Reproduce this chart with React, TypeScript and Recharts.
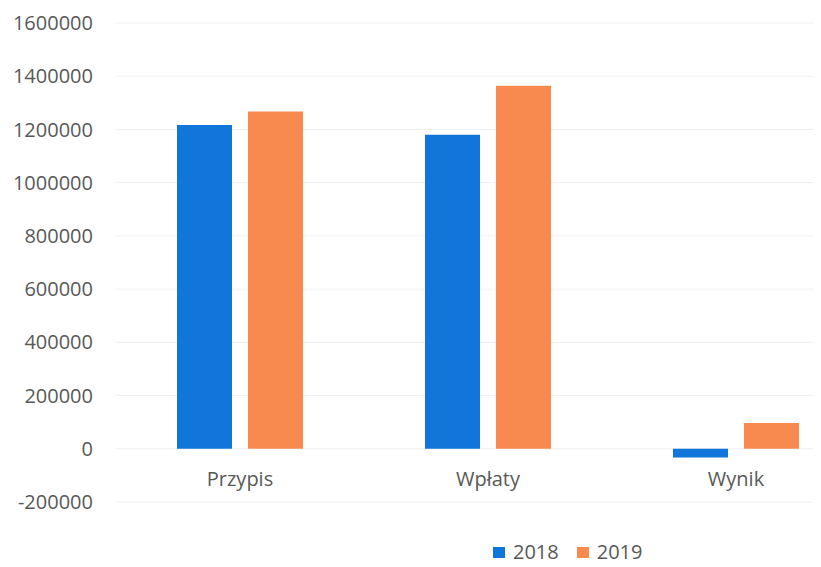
import { BarChart, Bar, XAxis, YAxis, CartesianGrid } from "recharts";

const CATEGORIES = ["Przypis", "Wpłaty", "Wynik"];
const VALUES_2018 = [1217000, 1180000, -33000];
const VALUES_2019 = [1267000, 1364000, 97000];
const Y_TICKS = [-200000, 0, 200000, 400000, 600000, 800000, 1000000, 1200000, 1400000, 1600000];

const SERIES = [
  { key: "y2018", name: "2018", color: "#1176da" },
  { key: "y2019", name: "2019", color: "#f88a4f" },
];

const data = CATEGORIES.map((c, i) => ({ c, y2018: VALUES_2018[i], y2019: VALUES_2019[i] }));

const FONT = "'Open Sans', sans-serif";
const TEXT = "#595959";

// Excel draws the category names beside the zero line, not at the bottom of the plot
function CategoryTick({ x, y, payload }: any) {
  return (
    <text x={x} y={y} dy={-16} textAnchor="middle" fill={TEXT} fontSize={20} fontFamily={FONT}>
      {payload.value}
    </text>
  );
}

export default function App() {
  return (
    <div style={{ position: "relative", margin: -8, width: 821, height: 567, overflow: "hidden", background: "#fff" }}>
      <BarChart
        width={860}
        height={567}
        data={data}
        margin={{ top: 23, right: 0, left: 0, bottom: 35 }}
        barGap={16}
        barSize={55}
      >
        <CartesianGrid stroke="#efefef" vertical={false} />
        <XAxis
          dataKey="c"
          height={30}
          axisLine={false}
          tickLine={false}
          tickSize={0}
          tickMargin={0}
          tick={CategoryTick}
          interval={0}
        />
        <YAxis
          width={116}
          domain={[-200000, 1600000]}
          ticks={Y_TICKS}
          interval={0}
          axisLine={false}
          tickLine={false}
          tickSize={0}
          tickMargin={23}
          tick={{ fill: TEXT, fontSize: 20, fontFamily: FONT }}
        />
        {SERIES.map((s) => (
          <Bar key={s.key} dataKey={s.key} name={s.name} fill={s.color} isAnimationActive={false} />
        ))}
      </BarChart>
      <div
        style={{
          position: "absolute",
          left: 493,
          top: 538,
          display: "flex",
          alignItems: "center",
          fontFamily: FONT,
          fontSize: 20,
          lineHeight: "28px",
          color: TEXT,
        }}
      >
        {SERIES.map((s) => (
          <div key={s.key} style={{ display: "flex", alignItems: "center", marginRight: 18 }}>
            <span style={{ display: "inline-block", width: 12, height: 11, background: s.color, marginRight: 8 }} />
            <span>{s.name}</span>
          </div>
        ))}
      </div>
    </div>
  );
}
